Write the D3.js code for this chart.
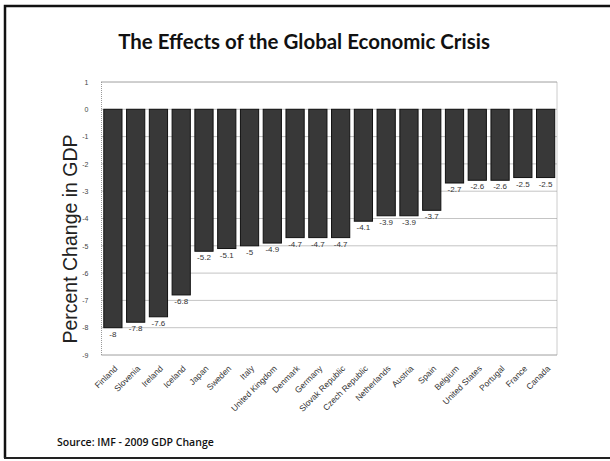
<!DOCTYPE html>
<html>
<head>
<meta charset="utf-8">
<script src="https://cdn.jsdelivr.net/npm/d3@7"></script>
<style>
  html, body { margin: 0; padding: 0; background: #fff; }
  svg { display: block; }
</style>
</head>
<body>
<svg id="chart" width="610" height="461"></svg>
<script>
// 2009 GDP change by country (percent)
const countries = ["Finland", "Slovenia", "Ireland", "Iceland", "Japan", "Sweden", "Italy",
  "United Kingdom", "Denmark", "Germany", "Slovak Republic", "Czech Republic", "Netherlands",
  "Austria", "Spain", "Belgium", "United States", "Portugal", "France", "Canada"];
const gdpChange = [-8, -7.8, -7.6, -6.8, -5.2, -5.1, -5, -4.9, -4.7, -4.7, -4.7, -4.1,
  -3.9, -3.9, -3.7, -2.7, -2.6, -2.6, -2.5, -2.5];
const yTicks = [1, 0, -1, -2, -3, -4, -5, -6, -7, -8, -9];

const svg = d3.select("#chart");
const W = 610, H = 461;
const plot = { left: 101.5, right: 557, top: 82, bottom: 355 };
const sans = "Liberation Sans, Arial, sans-serif";

// slide frame
svg.append("path")
  .attr("d", `M5,458 V6 H${W}`)
  .attr("fill", "none").attr("stroke", "#111").attr("stroke-width", 2.5);
svg.append("line")
  .attr("x1", 4).attr("x2", W).attr("y1", 458).attr("y2", 458)
  .attr("stroke", "#222").attr("stroke-width", 2);

// title, sized to span its slot
const title = svg.append("text")
  .attr("x", 304).attr("y", 49)
  .attr("text-anchor", "middle")
  .attr("font-family", "Lato, Open Sans, sans-serif")
  .attr("font-weight", "bold").attr("font-size", 22)
  .attr("fill", "#111")
  .text("The Effects of the Global Economic Crisis");
const tw = title.node().getComputedTextLength();
title.attr("font-size", 22 * 372 / tw);

const x = d3.scaleBand().domain(countries).range([plot.left, plot.right]).paddingInner(0.2).paddingOuter(0.1);
const y = d3.scaleLinear().domain([1, -9]).range([plot.top, plot.bottom]);

// horizontal dotted gridlines
svg.append("g")
  .selectAll("line").data(yTicks).join("line")
  .attr("x1", plot.left).attr("x2", plot.right)
  .attr("y1", d => y(d)).attr("y2", d => y(d))
  .attr("stroke", "#888").attr("stroke-width", 1)
  .attr("stroke-dasharray", "1,1");

// plot border
svg.append("rect")
  .attr("x", plot.left).attr("y", plot.top)
  .attr("width", plot.right - plot.left).attr("height", plot.bottom - plot.top)
  .attr("fill", "none").attr("stroke", "#999").attr("stroke-dasharray", "1,1");

// y axis
const yAxis = d3.axisLeft(y).tickValues(yTicks).tickSize(0).tickPadding(13).tickFormat(d => String(d));
const gy = svg.append("g").attr("transform", `translate(${plot.left},0)`).call(yAxis);
gy.select(".domain").remove();
gy.selectAll("text").attr("font-family", sans)
  .attr("font-size", 7).attr("fill", "#444");

svg.append("text")
  .attr("transform", `translate(77,239) rotate(-90)`)
  .attr("text-anchor", "middle")
  .attr("font-family", sans)
  .attr("font-size", 19.5).attr("fill", "#222")
  .text("Percent Change in GDP");

// bars
svg.append("g")
  .selectAll("rect").data(countries).join("rect")
  .attr("x", d => x(d))
  .attr("y", y(0))
  .attr("width", x.bandwidth())
  .attr("height", (d, i) => y(gdpChange[i]) - y(0))
  .attr("fill", "#383838").attr("stroke", "#111").attr("stroke-width", 1);

// value labels under each bar
svg.append("g")
  .selectAll("text").data(countries).join("text")
  .attr("x", d => x(d) + x.bandwidth() / 2)
  .attr("y", (d, i) => y(gdpChange[i]) + 9)
  .attr("text-anchor", "middle")
  .attr("font-family", sans)
  .attr("font-size", 8).attr("fill", "#333")
  .text((d, i) => String(gdpChange[i]));

// x axis labels, rotated
const xAxis = d3.axisBottom(x).tickSize(0).tickPadding(0);
const gx = svg.append("g").attr("transform", `translate(0,${plot.bottom + 12})`).call(xAxis);
gx.select(".domain").remove();
gx.selectAll("text")
  .attr("font-family", sans)
  .attr("font-size", 8.5).attr("fill", "#333")
  .attr("text-anchor", "end")
  .attr("dy", "0.35em")
  .attr("transform", "translate(3,0) rotate(-45)");

svg.append("text")
  .attr("x", 57).attr("y", 446)
  .attr("font-family", "Open Sans, Lato, sans-serif")
  .attr("font-weight", 600).attr("font-size", 10.5)
  .attr("fill", "#111")
  .text("Source: IMF - 2009 GDP Change");
</script>
</body>
</html>
